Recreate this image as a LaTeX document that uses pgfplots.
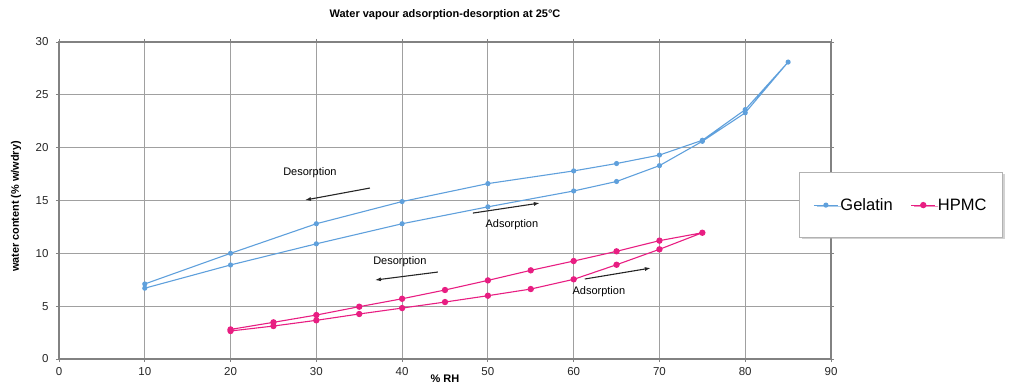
\documentclass[border=0pt]{standalone}
\usepackage{pgfplots}
\pgfplotsset{compat=1.18}
\usepackage{fontspec}
\setmainfont{Liberation Sans}
\usetikzlibrary{shadows,arrows.meta}
\definecolor{gelblue}{RGB}{95,160,220}
\definecolor{hpmcpink}{RGB}{232,30,130}
\definecolor{gridgray}{RGB}{160,160,160}
\definecolor{axgray}{RGB}{130,130,130}
\begin{document}
\begin{tikzpicture}
\useasboundingbox (-59pt,-29pt) rectangle (956pt,359pt);
\begin{axis}[
  at={(0,0)}, anchor=south west,
  scale only axis, width=772pt, height=317pt,
  xmin=0, xmax=90, ymin=0, ymax=30,
  xtick={0,10,...,90}, ytick={0,5,...,30},
  grid=major,
  major grid style={draw=gridgray, line width=0.9pt},
  axis line style={draw=axgray, line width=1.2pt},
  tick align=outside, major tick length=3pt,
  tick style={draw=axgray, line width=0.9pt},
  ticklabel style={font=\fontsize{11.5}{13}\selectfont, text=black!85},
  /pgf/number format/assume math mode=true,
  xticklabel style={yshift=-2pt},
  yticklabel style={xshift=-4pt},
  title={\textbf{Water vapour adsorption-desorption at 25\textdegree C}},
  title style={at={(axis description cs:0.5,1)}, anchor=base, yshift=19pt, font=\fontsize{11}{13}\selectfont},
  xlabel={\textbf{\% RH}},
  xlabel style={at={(axis description cs:0.5,0)}, anchor=base, yshift=-23pt, font=\fontsize{11}{12}\selectfont},
  ylabel={\textbf{water content (\% w/wdry)}},
  ylabel style={at={(axis description cs:0,0.5)}, anchor=center, yshift=43pt, xshift=-6pt, font=\fontsize{10.9}{12}\selectfont},
  legend columns=2,
  legend style={at={(rel axis cs:0.9585,0.59)}, anchor=north west,
    draw=gray!60, fill=white, line width=0.8pt,
    drop shadow={shadow xshift=3pt, shadow yshift=-1.5pt, fill=gray!70},
    inner xsep=14pt, inner ysep=24pt,
    font=\fontsize{16.5}{18}\selectfont,
    /tikz/every even column/.append style={column sep=16pt}},
  legend image code/.code={\draw[mark repeat=2,mark phase=2,#1] plot coordinates {(0pt,0pt) (12pt,0pt) (24pt,0pt)};},
]
\addplot[color=gelblue, line width=1.1pt, mark=*, mark size=2pt, mark options={fill=gelblue, draw=gelblue}] coordinates {
  (10,6.7) (20,8.9) (30,10.9) (40,12.8) (50,14.4) (60,15.9) (65,16.8) (70,18.3) (75,20.6) (80,23.3) (85,28.1)
  (80,23.6) (75,20.7) (70,19.3) (65,18.5) (60,17.8) (50,16.6) (40,14.9) (30,12.8) (20,10.0) (10,7.1)
};
\addlegendentry{Gelatin}
\addplot[color=hpmcpink, line width=1.1pt, mark=*, mark size=2.6pt, mark options={fill=hpmcpink, draw=hpmcpink}] coordinates {
  (20,2.65) (25,3.12) (30,3.66) (35,4.26) (40,4.82) (45,5.39) (50,5.99) (55,6.62) (60,7.54) (65,8.92) (70,10.38) (75,11.95)
  (70,11.2) (65,10.19) (60,9.27) (55,8.39) (50,7.44) (45,6.53) (40,5.7) (35,4.95) (30,4.16) (25,3.47) (20,2.8)
};
\addlegendentry{HPMC}
\draw[-{Latex[length=6pt,width=4pt]}, line width=1.1pt, black!85] (axis cs:36.25,16.18) -- (axis cs:28.67,15.04);
\node[font=\fontsize{11}{13}\selectfont] at (axis cs:29.25,17.6) {Desorption};
\draw[-{Latex[length=6pt,width=4pt]}, line width=1.1pt, black!85] (axis cs:48.25,13.81) -- (axis cs:56.06,14.76);
\node[font=\fontsize{11}{13}\selectfont] at (axis cs:52.8,12.68) {Adsorption};
\draw[-{Latex[length=6pt,width=4pt]}, line width=1.1pt, black!85] (axis cs:44.17,8.23) -- (axis cs:36.83,7.47);
\node[font=\fontsize{11}{13}\selectfont] at (axis cs:39.74,9.18) {Desorption};
\draw[-{Latex[length=6pt,width=4pt]}, line width=1.1pt, black!85] (axis cs:61.3,7.57) -- (axis cs:69.0,8.61);
\node[font=\fontsize{11}{13}\selectfont] at (axis cs:62.94,6.34) {Adsorption};
\end{axis}
\end{tikzpicture}
\end{document}
